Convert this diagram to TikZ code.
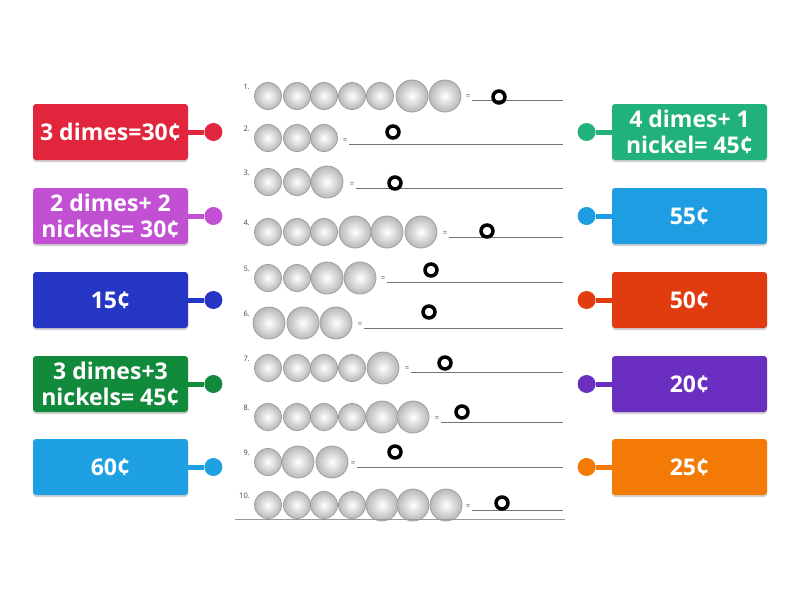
\documentclass[tikz,border=0pt]{standalone}
\usepackage{fontspec}
\setmainfont{Open Sans}
\usetikzlibrary{ positioning, % For easy node-relative placements
                 shadows,     % For the soft shadow under the boxes
               }
\definecolor{boxred}{HTML}{E1253C}
\definecolor{boxorchid}{HTML}{C150D2}
\definecolor{boxnavy}{HTML}{2535C4}
\definecolor{boxgreen}{HTML}{118A3B}
\definecolor{boxsky}{HTML}{1FA0E2}
\definecolor{boxmint}{HTML}{20B27A}
\definecolor{boxblue}{HTML}{1E9DE3}
\definecolor{boxrust}{HTML}{E03C0F}
\definecolor{boxviolet}{HTML}{6A2EC0}
\definecolor{boxorange}{HTML}{F27A05}
\tikzstyle{answer} = [rectangle, rounded corners=3pt, minimum width=155pt, minimum height=56pt, inner sep=1pt, text=white, align=center, font=\bfseries\fontsize{23}{26}\selectfont, drop shadow={shadow xshift=0pt, shadow yshift=-2pt, opacity=0.18, fill=black}]
\tikzstyle{pin} = [circle, minimum size=18pt, inner sep=0pt]
\tikzstyle{link} = [line width=5pt]
\tikzstyle{rownum} = [font=\fontsize{7.5}{8}\selectfont, text=black!75, inner sep=0pt]
\tikzstyle{slot} = [draw=black, line width=3.5pt]

\begin{document}
\begin{tikzpicture}[x=1pt, y=-1pt]
  \useasboundingbox (0,0) rectangle (800,600);
  % worksheet
  \foreach \i/\cy/\coins/\eqx/\ly/\rx/\ry in {
      1/96/{268/13.5,297/13.5,324/13.5,352/13.5,380/13.5,412/16,445/16}/468/100/499/97,
      2/138/{268/13.5,297/13.5,324/13.5}/345/144/393/132,
      3/182/{268/13.5,297/13.5,327/16}/352/188/395/183,
      4/232/{268/13.5,297/13.5,324/13.5,355/16,387/16,421/16}/445/237/487/231,
      5/278/{268/13.5,297/13.5,327/16,360/16}/383/282/431/270,
      6/323/{269/16,303/16,336/16}/360/328/429/312,
      7/368/{268/13.5,297/13.5,324/13.5,352/13.5,383/16}/407/372/445/363,
      8/417/{268/13.5,297/13.5,324/13.5,352/13.5,382/16,413/16}/437/422/462/412,
      9/462/{268/13.5,298/16,332/16}/353/467/395/452,
      10/505/{268/13.5,297/13.5,324/13.5,352/13.5,382/16,413/16,446/16}/468/510/502/503} {
    \node (num\i) [rownum, anchor=east] at (250,\cy-9) {\i.};
    \foreach \x/\r in \coins {
      \shade [inner color=white, outer color=black!28] (\x,\cy) circle [radius=\r pt];
      \draw [black!38, line width=0.8pt] (\x,\cy) circle [radius=\r pt];
      \draw [black!22, line width=0.5pt] (\x,\cy) circle [radius=0.8*\r pt];
    }
    \node (eq\i) [rownum] at (\eqx,\ly-3) {=};
    \draw [black!55, line width=0.9pt] (\eqx+4,\ly) -- (563,\ly);
    \draw [slot] (\rx,\ry) circle [radius=6pt];
  }
  \draw [black!40, line width=0.8pt] (235,519) -- (565,519);
  % left column
  \node (l1) [answer, fill=boxred] at (110.5,132) {3 dimes=30¢};
  \node (l2) [answer, fill=boxorchid] at (110.5,216) {2 dimes+ 2\\nickels= 30¢};
  \node (l3) [answer, fill=boxnavy] at (110.5,300) {15¢};
  \node (l4) [answer, fill=boxgreen] at (110.5,384) {3 dimes+3\\nickels= 45¢};
  \node (l5) [answer, fill=boxsky] at (110.5,467) {60¢};
  \node (ld1) [pin, fill=boxred, right=16pt of l1] {};
  \node (ld2) [pin, fill=boxorchid, right=16pt of l2] {};
  \node (ld3) [pin, fill=boxnavy, right=16pt of l3] {};
  \node (ld4) [pin, fill=boxgreen, right=16pt of l4] {};
  \node (ld5) [pin, fill=boxsky, right=16pt of l5] {};
  \draw [link, boxred] (l1) -- (ld1);
  \draw [link, boxorchid] (l2) -- (ld2);
  \draw [link, boxnavy] (l3) -- (ld3);
  \draw [link, boxgreen] (l4) -- (ld4);
  \draw [link, boxsky] (l5) -- (ld5);
  % right column
  \node (r1) [answer, fill=boxmint] at (689.5,132) {4 dimes+ 1\\nickel= 45¢};
  \node (r2) [answer, fill=boxblue] at (689.5,216) {55¢};
  \node (r3) [answer, fill=boxrust] at (689.5,300) {50¢};
  \node (r4) [answer, fill=boxviolet] at (689.5,384) {20¢};
  \node (r5) [answer, fill=boxorange] at (689.5,467) {25¢};
  \node (rd1) [pin, fill=boxmint, left=16pt of r1] {};
  \node (rd2) [pin, fill=boxblue, left=16pt of r2] {};
  \node (rd3) [pin, fill=boxrust, left=16pt of r3] {};
  \node (rd4) [pin, fill=boxviolet, left=16pt of r4] {};
  \node (rd5) [pin, fill=boxorange, left=16pt of r5] {};
  \draw [link, boxmint] (r1) -- (rd1);
  \draw [link, boxblue] (r2) -- (rd2);
  \draw [link, boxrust] (r3) -- (rd3);
  \draw [link, boxviolet] (r4) -- (rd4);
  \draw [link, boxorange] (r5) -- (rd5);
\end{tikzpicture}
\end{document}
